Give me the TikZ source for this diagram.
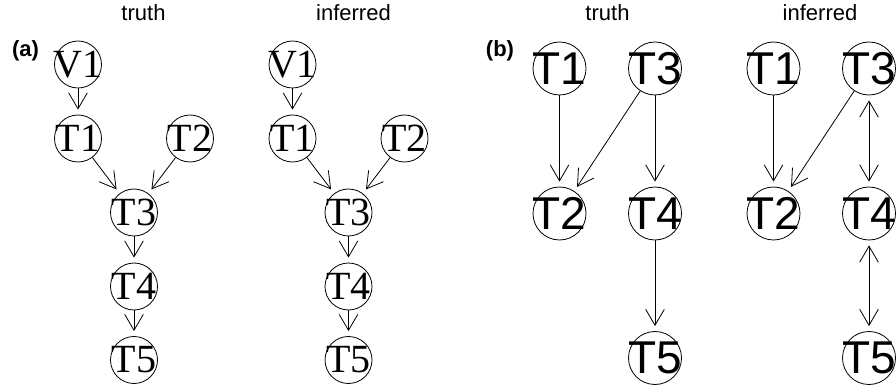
\documentclass[tikz,border=0pt]{standalone}
\usepackage{fontspec}
\setmainfont{Liberation Serif}
\setsansfont{Liberation Sans}
\usepackage{tikz}
\usetikzlibrary{arrows.meta, calc, positioning}
\newcommand\dagedge[3]{
    \draw [#1] (#2) -- (#3);
}
\tikzstyle{serifnode} = [circle,draw=black,line width=0.6pt,minimum size=35.25pt,inner sep=0pt,font=\fontsize{30}{30}\selectfont]
\tikzstyle{sansnode}  = [circle,draw=black,line width=0.6pt,minimum size=39.75pt,inner sep=0pt,font=\sffamily\fontsize{34.5}{34.5}\selectfont]
\tikzstyle{heading}   = [anchor=base,inner sep=0pt,font=\sffamily\fontsize{16.5}{16.5}\selectfont]
\tikzstyle{panel}     = [anchor=base,inner sep=0pt,font=\sffamily\bfseries\fontsize{16.5}{16.5}\selectfont]
\tikzstyle{oneway}    = [line width=0.6pt,-{Straight Barb[length=12pt,width=14pt]},shorten >=3.75pt]
\tikzstyle{twoway}    = [line width=0.6pt,{Straight Barb[length=12pt,width=14pt]}-{Straight Barb[length=12pt,width=14pt]},shorten >=3.75pt,shorten <=3.75pt]

\begin{document}
\begin{tikzpicture}[x=0.75pt,y=-0.75pt]
        \useasboundingbox (0,0) rectangle (896,388);

        % (a) truth
        \node[serifnode] (at V1) at (78,64.5)   {\makebox[0pt]{V1}};
        \node[serifnode] (at T1) at (78,138.5)  {\makebox[0pt]{T1}};
        \node[serifnode] (at T2) at (190,138.5) {\makebox[0pt]{T2}};
        \node[serifnode] (at T3) at (134,212.5) {\makebox[0pt]{T3}};
        \node[serifnode] (at T4) at (134,286.5) {\makebox[0pt]{T4}};
        \node[serifnode] (at T5) at (134,360)   {\makebox[0pt]{T5}};

        % (a) inferred
        \node[serifnode] (ai V1) at ($(at V1)+(214.5,0)$) {\makebox[0pt]{V1}};
        \node[serifnode] (ai T1) at ($(at T1)+(214.5,0)$) {\makebox[0pt]{T1}};
        \node[serifnode] (ai T2) at ($(at T2)+(214.5,0)$) {\makebox[0pt]{T2}};
        \node[serifnode] (ai T3) at ($(at T3)+(214.5,0)$) {\makebox[0pt]{T3}};
        \node[serifnode] (ai T4) at ($(at T4)+(214.5,0)$) {\makebox[0pt]{T4}};
        \node[serifnode] (ai T5) at ($(at T5)+(214.5,0)$) {\makebox[0pt]{T5}};

        % (b) truth
        \node[sansnode] (bt T1) at (559.5,68.5)  {\makebox[0pt]{T1}};
        \node[sansnode] (bt T3) at (655,68.5)    {\makebox[0pt]{T3}};
        \node[sansnode] (bt T2) at (559.5,213.5) {\makebox[0pt]{T2}};
        \node[sansnode] (bt T4) at (655,213.5)   {\makebox[0pt]{T4}};
        \node[sansnode] (bt T5) at (655,358)     {\makebox[0pt]{T5}};

        % (b) inferred
        \node[sansnode] (bi T1) at ($(bt T1)+(214,0)$) {\makebox[0pt]{T1}};
        \node[sansnode] (bi T3) at ($(bt T3)+(214,0)$) {\makebox[0pt]{T3}};
        \node[sansnode] (bi T2) at ($(bt T2)+(214,0)$) {\makebox[0pt]{T2}};
        \node[sansnode] (bi T4) at ($(bt T4)+(214,0)$) {\makebox[0pt]{T4}};
        \node[sansnode] (bi T5) at ($(bt T5)+(214,0)$) {\makebox[0pt]{T5}};

        \dagedge{oneway}{at V1}{at T1}
        \dagedge{oneway}{at T1}{at T3}
        \dagedge{oneway}{at T2}{at T3}
        \dagedge{oneway}{at T3}{at T4}
        \dagedge{oneway}{at T4}{at T5}

        \dagedge{oneway}{ai V1}{ai T1}
        \dagedge{oneway}{ai T1}{ai T3}
        \dagedge{oneway}{ai T2}{ai T3}
        \dagedge{oneway}{ai T3}{ai T4}
        \dagedge{oneway}{ai T4}{ai T5}

        \dagedge{oneway}{bt T1}{bt T2}
        \dagedge{oneway}{bt T3}{bt T2}
        \dagedge{oneway}{bt T3}{bt T4}
        \dagedge{oneway}{bt T4}{bt T5}

        \dagedge{oneway}{bi T1}{bi T2}
        \dagedge{oneway}{bi T3}{bi T2}
        \dagedge{twoway}{bi T3}{bi T4}
        \dagedge{twoway}{bi T4}{bi T5}

        \node[heading] (title at) at (143.5,21) {truth};
        \node[heading] (title ai) at (353.5,21) {inferred};
        \node[heading] (title bt) at (607.5,21) {truth};
        \node[heading] (title bi) at (820,21)   {inferred};
        \node[panel]   (label a)  at (25.5,57)  {(a)};
        \node[panel]   (label b)  at (500,57)   {(b)};
\end{tikzpicture}
\end{document}
